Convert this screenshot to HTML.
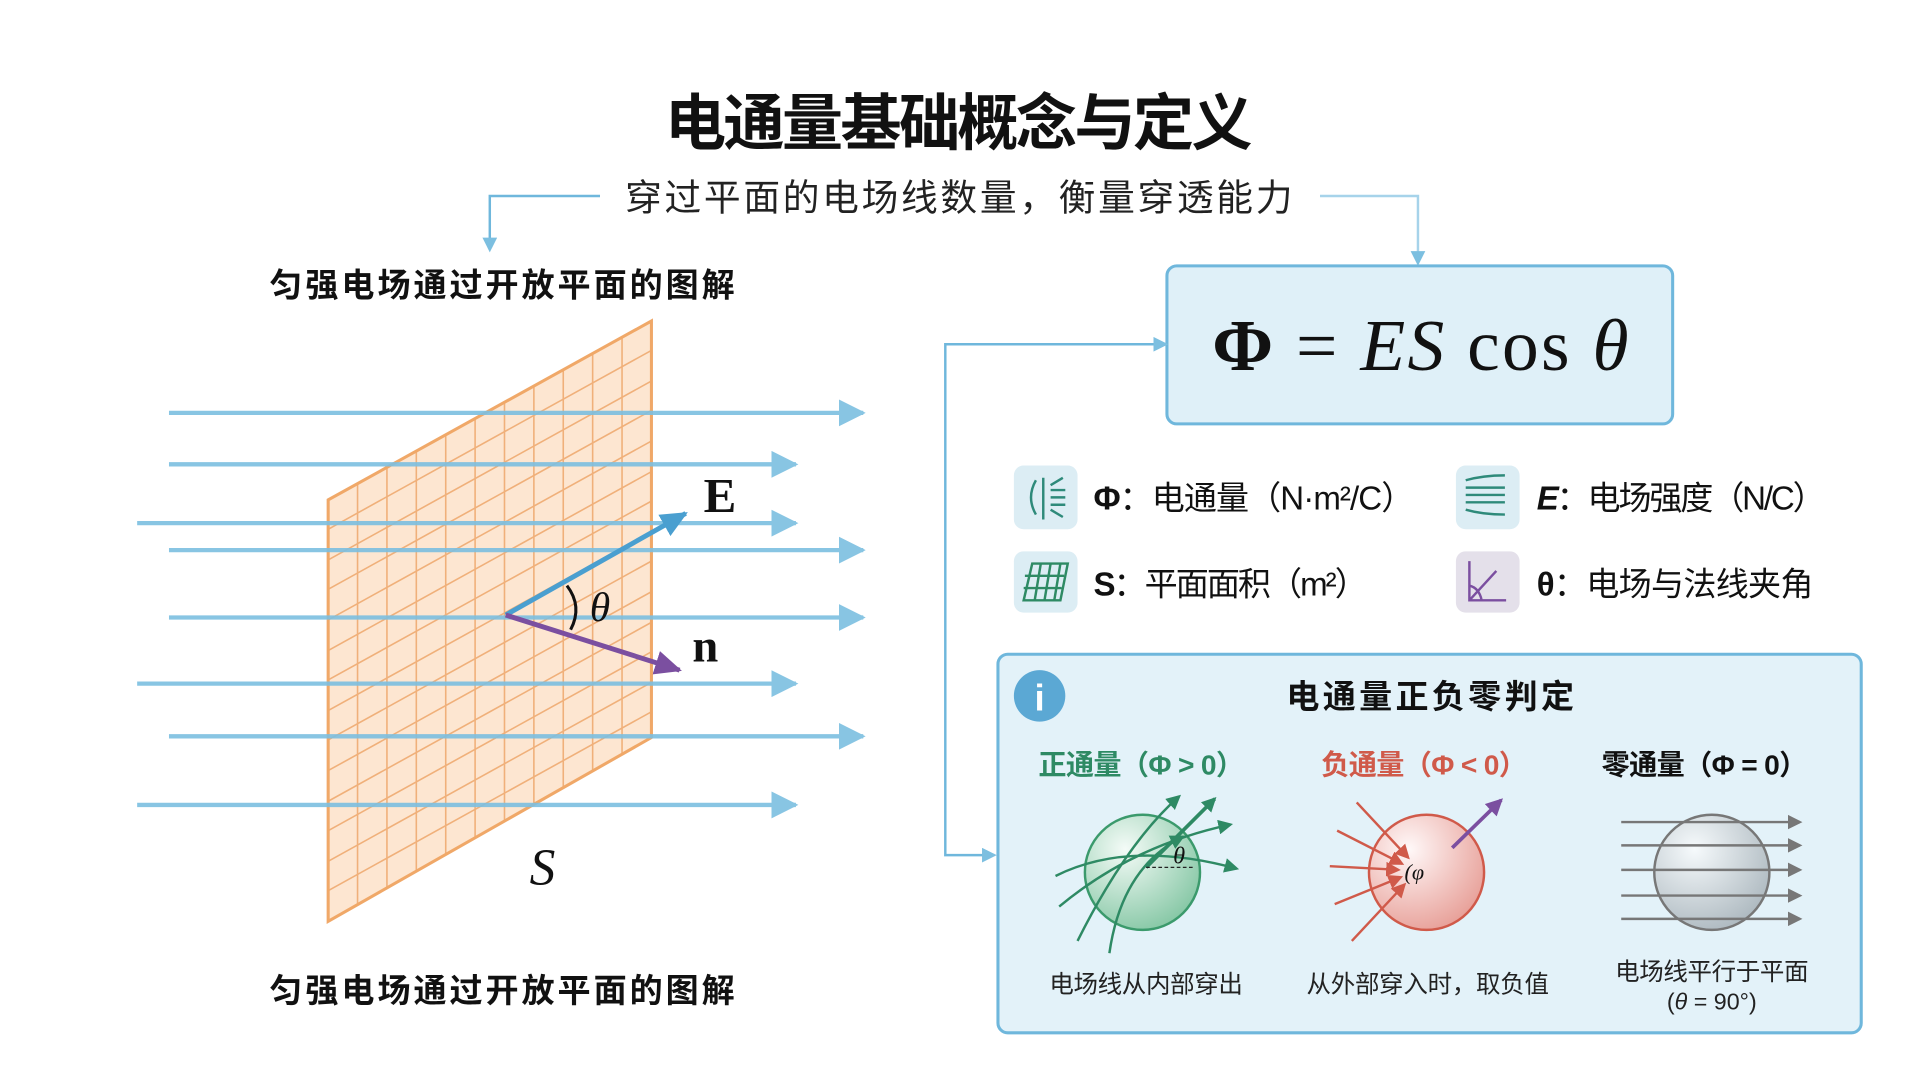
<!DOCTYPE html>
<html><head><meta charset="utf-8"><style>
html,body{margin:0;padding:0;background:#fff;}
svg{display:block;}
text{font-family:"Liberation Sans","Noto Sans CJK SC",sans-serif;}
text.sf{font-family:"Liberation Serif","DejaVu Serif",serif;}
</style></head><body>
<svg width="1920" height="1072" viewBox="0 0 1568 875" preserveAspectRatio="none" xmlns="http://www.w3.org/2000/svg">
<defs>
<marker id="ab" markerWidth="12" markerHeight="12" refX="10" refY="6" orient="auto" markerUnits="userSpaceOnUse"><path d="M0,0 L12,6 L0,12 z" fill="#7cbfe0"/></marker>
<marker id="abl" markerWidth="22" markerHeight="22" refX="20" refY="11" orient="auto" markerUnits="userSpaceOnUse"><path d="M0,0 L22,11 L0,22 z" fill="#7cbfe0"/></marker>
<marker id="ae" markerWidth="22" markerHeight="20" refX="20" refY="10" orient="auto" markerUnits="userSpaceOnUse"><path d="M0,0 L22,10 L0,20 z" fill="#4a9fd0"/></marker>
<marker id="an" markerWidth="22" markerHeight="20" refX="20" refY="10" orient="auto" markerUnits="userSpaceOnUse"><path d="M0,0 L22,10 L0,20 z" fill="#7b4fa0"/></marker>
<marker id="ag" markerWidth="12" markerHeight="12" refX="10" refY="6" orient="auto" markerUnits="userSpaceOnUse"><path d="M0,0 L12,6 L0,12 z" fill="#2e8a64"/></marker>
<marker id="ar" markerWidth="12" markerHeight="12" refX="10" refY="6" orient="auto" markerUnits="userSpaceOnUse"><path d="M0,0 L12,6 L0,12 z" fill="#d05a4a"/></marker>
<marker id="ap" markerWidth="14" markerHeight="14" refX="12" refY="7" orient="auto" markerUnits="userSpaceOnUse"><path d="M0,0 L14,7 L0,14 z" fill="#7b4fa0"/></marker>
<marker id="ay" markerWidth="12" markerHeight="12" refX="10" refY="6" orient="auto" markerUnits="userSpaceOnUse"><path d="M0,0 L12,6 L0,12 z" fill="#777"/></marker>
<clipPath id="pl"><polygon points="268,408 532,262 532,602 268,752"/></clipPath>
<radialGradient id="gg" cx="0.35" cy="0.3" r="0.8"><stop offset="0" stop-color="#f4fbf7"/><stop offset="1" stop-color="#7fc4a0"/></radialGradient>
<radialGradient id="gr" cx="0.35" cy="0.3" r="0.8"><stop offset="0" stop-color="#fff8f8"/><stop offset="1" stop-color="#e69a92"/></radialGradient>
<radialGradient id="gy" cx="0.35" cy="0.3" r="0.8"><stop offset="0" stop-color="#f6fafc"/><stop offset="1" stop-color="#a9b5bc"/></radialGradient>
</defs>

<text x="783" y="118" font-size="50" font-weight="bold" text-anchor="middle" fill="#111" textLength="480">电通量基础概念与定义</text>
<text x="783" y="172" font-size="30" text-anchor="middle" fill="#222" textLength="545">穿过平面的电场线数量，衡量穿透能力</text>
<path d="M490,160 H400 V204" fill="none" stroke="#6fb7dc" stroke-width="2" marker-end="url(#ab)"/>
<path d="M1078,160 H1158 V215" fill="none" stroke="#a6d3ea" stroke-width="2" marker-end="url(#ab)"/>

<text x="410" y="242" font-size="27" font-weight="bold" text-anchor="middle" fill="#111" textLength="380">匀强电场通过开放平面的图解</text>
<text x="410" y="818" font-size="27" font-weight="bold" text-anchor="middle" fill="#111" textLength="380">匀强电场通过开放平面的图解</text>

<polygon points="268,408 532,262 532,602 268,752" fill="#fde3cc" opacity="0.9"/>
<g clip-path="url(#pl)" stroke="#f0b07a" stroke-width="1.3">
<line x1="292" y1="200" x2="292" y2="800"/><line x1="316" y1="200" x2="316" y2="800"/><line x1="340" y1="200" x2="340" y2="800"/><line x1="364" y1="200" x2="364" y2="800"/><line x1="388" y1="200" x2="388" y2="800"/><line x1="412" y1="200" x2="412" y2="800"/><line x1="436" y1="200" x2="436" y2="800"/><line x1="460" y1="200" x2="460" y2="800"/><line x1="484" y1="200" x2="484" y2="800"/><line x1="508" y1="200" x2="508" y2="800"/>
<line x1="268" y1="432" x2="532" y2="286"/><line x1="268" y1="457" x2="532" y2="311"/><line x1="268" y1="481" x2="532" y2="335"/><line x1="268" y1="506" x2="532" y2="360"/><line x1="268" y1="531" x2="532" y2="385"/><line x1="268" y1="555" x2="532" y2="409"/><line x1="268" y1="580" x2="532" y2="434"/><line x1="268" y1="604" x2="532" y2="458"/><line x1="268" y1="629" x2="532" y2="483"/><line x1="268" y1="654" x2="532" y2="508"/><line x1="268" y1="678" x2="532" y2="532"/><line x1="268" y1="703" x2="532" y2="557"/><line x1="268" y1="727" x2="532" y2="581"/>
</g>
<polygon points="268,408 532,262 532,602 268,752" fill="none" stroke="#f0a868" stroke-width="2.5"/>

<g stroke="#7cbfe0" stroke-width="3.5" fill="none" opacity="0.9">
<line x1="138" y1="337" x2="705" y2="337" marker-end="url(#abl)"/>
<line x1="138" y1="379" x2="650" y2="379" marker-end="url(#abl)"/>
<line x1="112" y1="427" x2="650" y2="427" marker-end="url(#abl)"/>
<line x1="138" y1="449" x2="705" y2="449" marker-end="url(#abl)"/>
<line x1="138" y1="504" x2="705" y2="504" marker-end="url(#abl)"/>
<line x1="112" y1="558" x2="650" y2="558" marker-end="url(#abl)"/>
<line x1="138" y1="601" x2="705" y2="601" marker-end="url(#abl)"/>
<line x1="112" y1="657" x2="650" y2="657" marker-end="url(#abl)"/>
</g>
<line x1="413" y1="502" x2="560" y2="419" stroke="#4a9fd0" stroke-width="4" marker-end="url(#ae)"/>
<line x1="413" y1="502" x2="555" y2="547" stroke="#7b4fa0" stroke-width="4" marker-end="url(#an)"/>
<path d="M463,478 Q476,495 466,514" fill="none" stroke="#111" stroke-width="2.5"/>
<text class="sf" x="490" y="507" font-style="italic" font-size="34" text-anchor="middle" fill="#111">θ</text>
<text class="sf" x="588" y="418" font-weight="bold" font-size="40" text-anchor="middle" fill="#111">E</text>
<text class="sf" x="576" y="540" font-weight="bold" font-size="38" text-anchor="middle" fill="#111">n</text>
<text class="sf" x="443" y="722" font-style="italic" font-size="42" text-anchor="middle" fill="#111">S</text>

<rect x="953" y="217" width="413" height="129" rx="8" fill="#dff0f8" stroke="#6fb7dc" stroke-width="2.5"/>
<text class="sf" x="1160" y="302" font-size="60" text-anchor="middle" fill="#111" textLength="340"><tspan font-weight="bold">Φ</tspan> = <tspan font-style="italic">ES</tspan> cos <tspan font-style="italic">θ</tspan></text>
<path d="M950,281 H772 V698 H812" fill="none" stroke="#6fb7dc" stroke-width="2" marker-end="url(#ab)"/>
<path d="M772,281 H952" fill="none" stroke="#6fb7dc" stroke-width="2" marker-end="url(#ab)"/>

<rect x="828" y="380" width="52" height="52" rx="8" fill="#dcedf4"/>
<g stroke="#2e8a7a" stroke-width="2" fill="none"><path d="M846,392 q-8,14 0,28 M852,390 v34 M858,400 h12 M858,406 h12 M858,412 h12 M858,396 l10,-6 M858,416 l10,6"/></g>
<rect x="1189" y="380" width="52" height="52" rx="8" fill="#dcedf4"/>
<g stroke="#2e8a7a" stroke-width="2" fill="none"><path d="M1197,392 q14,-4 32,-4 M1197,398 h32 M1197,404 h32 M1197,410 h32 M1197,416 q14,4 32,4"/></g>
<rect x="828" y="450" width="52" height="50" rx="8" fill="#dcedf4"/>
<g stroke="#2e8a64" stroke-width="2" fill="none"><polygon points="843,460 872,460 866,490 836,490"/><line x1="837" y1="470" x2="869" y2="470"/><line x1="836" y1="480" x2="867" y2="480"/><line x1="850" y1="460" x2="845" y2="490"/><line x1="858" y1="460" x2="853" y2="490"/><line x1="866" y1="460" x2="861" y2="490"/></g>
<rect x="1189" y="450" width="52" height="50" rx="8" fill="#e4e0ea"/>
<g stroke="#7b4fa0" stroke-width="2" fill="none"><path d="M1200,458 V490 H1230 M1200,490 L1222,466 M1200,478 q8,2 10,12"/></g>
<text x="893" y="416" font-size="27" fill="#111" textLength="262"><tspan font-weight="bold">Φ</tspan>：电通量（N·m²/C）</text>
<text x="1255" y="416" font-size="27" fill="#111" textLength="236"><tspan font-weight="bold" font-style="italic">E</tspan>：电场强度（N/C）</text>
<text x="893" y="486" font-size="27" fill="#111" textLength="224"><tspan font-weight="bold">S</tspan>：平面面积（m²）</text>
<text x="1255" y="486" font-size="27" fill="#111" textLength="226"><tspan font-weight="bold">θ</tspan>：电场与法线夹角</text>

<rect x="815" y="534" width="705" height="309" rx="8" fill="#e3f2f9" stroke="#6fb7dc" stroke-width="2.5"/>
<circle cx="849" cy="568" r="21" fill="#5ba8d4"/>
<text x="849" y="580" font-size="30" font-weight="bold" text-anchor="middle" fill="#fff">i</text>
<text x="1168" y="578" font-size="27" font-weight="bold" text-anchor="middle" fill="#111" textLength="235">电通量正负零判定</text>
<text x="932" y="632" font-size="23" font-weight="bold" text-anchor="middle" fill="#2e8a64" textLength="168">正通量（Φ &gt; 0）</text>
<text x="1163" y="632" font-size="23" font-weight="bold" text-anchor="middle" fill="#d05a4a" textLength="168">负通量（Φ &lt; 0）</text>
<text x="1392" y="632" font-size="23" font-weight="bold" text-anchor="middle" fill="#111" textLength="168">零通量（Φ = 0）</text>

<circle cx="933" cy="712" r="47" fill="url(#gg)" stroke="#3b9a6c" stroke-width="2"/>
<g stroke="#2e8a64" stroke-width="2" fill="none">
<path d="M862,715 q60,-30 148,-6" marker-end="url(#ag)"/>
<path d="M865,740 q60,-50 140,-67" marker-end="url(#ag)"/>
<path d="M880,768 q40,-80 83,-118" marker-end="url(#ag)"/>
<path d="M906,778 q10,-70 60,-95" marker-end="url(#ag)"/>
<line x1="936" y1="708" x2="992" y2="652" stroke-width="3" marker-end="url(#ag)"/>
<line x1="936" y1="708" x2="975" y2="708" stroke="#222" stroke-width="1" stroke-dasharray="3,2"/>
</g>
<text class="sf" x="963" y="705" font-style="italic" font-size="20" text-anchor="middle" fill="#111">θ</text>

<circle cx="1165" cy="712" r="47" fill="url(#gr)" stroke="#d05a4a" stroke-width="2"/>
<g stroke="#d05a4a" stroke-width="2" fill="none">
<line x1="1108" y1="655" x2="1150" y2="700" marker-end="url(#ar)"/>
<line x1="1092" y1="678" x2="1145" y2="705" marker-end="url(#ar)"/>
<line x1="1086" y1="707" x2="1142" y2="710" marker-end="url(#ar)"/>
<line x1="1090" y1="738" x2="1144" y2="716" marker-end="url(#ar)"/>
<line x1="1104" y1="768" x2="1147" y2="722" marker-end="url(#ar)"/>
</g>
<line x1="1186" y1="692" x2="1226" y2="653" stroke="#7b4fa0" stroke-width="3" marker-end="url(#ap)"/>
<text class="sf" x="1155" y="718" font-style="italic" font-size="18" text-anchor="middle" fill="#111">(φ</text>

<circle cx="1398" cy="712" r="47" fill="url(#gy)" stroke="#777" stroke-width="2"/>
<g stroke="#777" stroke-width="2" fill="none">
<line x1="1324" y1="671" x2="1470" y2="671" marker-end="url(#ay)"/>
<line x1="1324" y1="690" x2="1470" y2="690" marker-end="url(#ay)"/>
<line x1="1324" y1="710" x2="1470" y2="710" marker-end="url(#ay)"/>
<line x1="1324" y1="731" x2="1470" y2="731" marker-end="url(#ay)"/>
<line x1="1324" y1="750" x2="1470" y2="750" marker-end="url(#ay)"/>
</g>

<text x="936" y="810" font-size="20" text-anchor="middle" fill="#222" textLength="158">电场线从内部穿出</text>
<text x="1166" y="810" font-size="20" text-anchor="middle" fill="#222" textLength="198">从外部穿入时，取负值</text>
<text x="1398" y="800" font-size="20" text-anchor="middle" fill="#222" textLength="158">电场线平行于平面</text>
<text x="1398" y="824" font-size="19" text-anchor="middle" fill="#222">(<tspan font-style="italic">θ</tspan> = 90°)</text>
</svg>
</body></html>
